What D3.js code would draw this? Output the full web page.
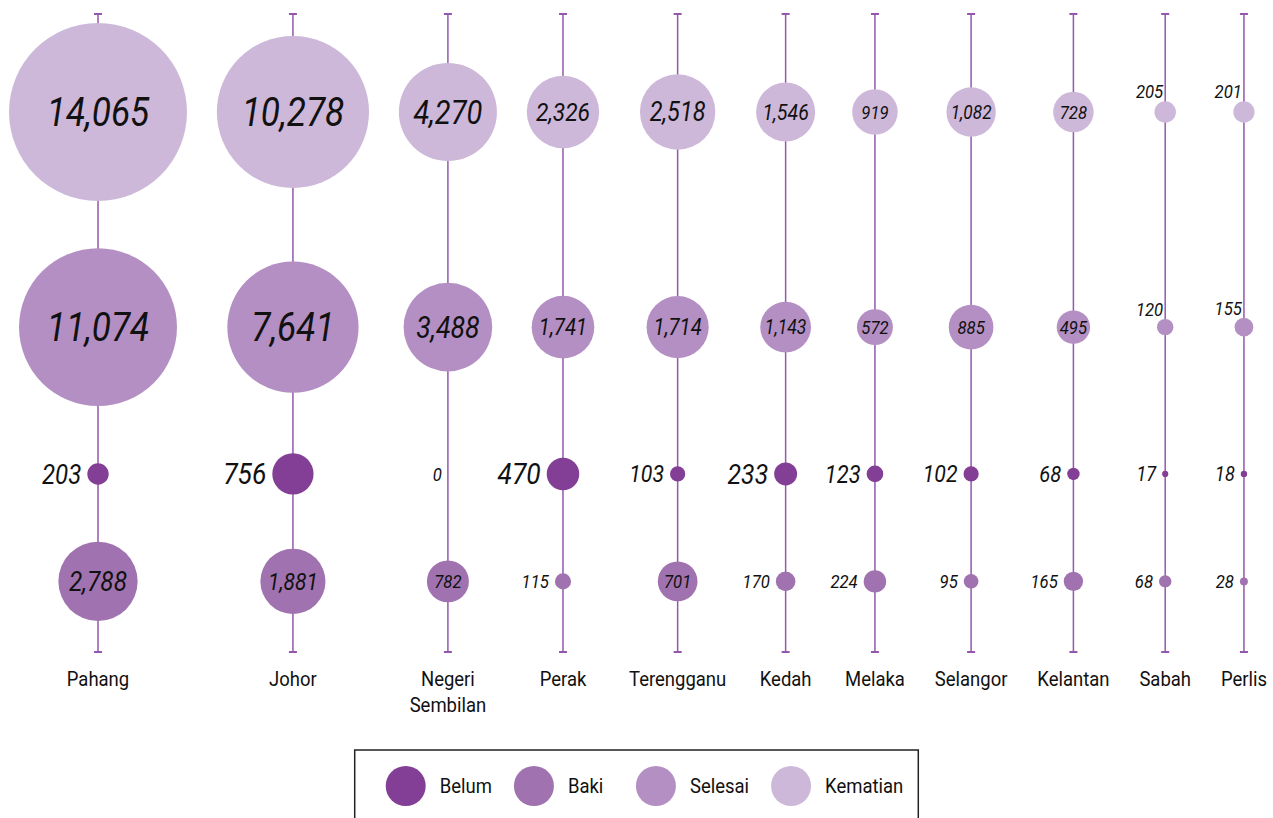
<!DOCTYPE html>
<html>
<head>
<meta charset="utf-8">
<script src="https://cdn.jsdelivr.net/npm/d3@7"></script>
<style>
  body { margin: 0; background: #fff; }
  svg text { font-family: Roboto, "Noto Sans", sans-serif; fill: #111; }
</style>
</head>
<body>
<div id="chart"></div>
<script>
// data
const states = ["Pahang", "Johor", "Negeri Sembilan", "Perak", "Terengganu", "Kedah", "Melaka", "Selangor", "Kelantan", "Sabah", "Perlis"];
const kematian = [14065, 10278, 4270, 2326, 2518, 1546, 919, 1082, 728, 205, 201];
const selesai = [11074, 7641, 3488, 1741, 1714, 1143, 572, 885, 495, 120, 155];
const belum = [203, 756, 0, 470, 103, 233, 123, 102, 68, 17, 18];
const baki = [2788, 1881, 782, 115, 701, 170, 224, 95, 165, 68, 28];
const rowNames = ["Kematian", "Selesai", "Belum", "Baki"];
const legendOrder = ["Belum", "Baki", "Selesai", "Kematian"];

const W = 1273, H = 818;
const condense = 0.88; // no condensed face installed, squeeze Roboto instead
const fmt = d3.format(",");

const svg = d3.select("#chart").append("svg")
  .attr("width", W)
  .attr("height", H);

const color = d3.scaleOrdinal()
  .domain(legendOrder)
  .range(["#833f96", "#a073b0", "#b48fc3", "#cdb8da"]);

const rows = rowNames.map((name, i) => ({ name, values: [kematian, selesai, belum, baki][i] }));

const r = d3.scaleSqrt()
  .domain([0, d3.max(rows, row => d3.max(row.values))])
  .range([0, 89]);

// text measuring helper
const measure = svg.append("text").attr("visibility", "hidden");
function textW(str, size, italic) {
  measure.text(str)
    .style("font-size", size + "px")
    .style("font-style", italic ? "italic" : "normal");
  return measure.node().getComputedTextLength() * condense;
}

// column layout: each column as wide as its biggest bubble or its label
const labelSize = 21;
const cols = states.map((s, i) => {
  const lines = s.split(" ");
  const lw = d3.max(lines, l => textW(l, labelSize, false));
  const rm = d3.max(rows, row => r(row.values[i]));
  return { state: s, lines, w: Math.max(2 * rm, lw) };
});
const padL = 9, padR = 6;
const gap = (W - padR - padL - d3.sum(cols, c => c.w)) / (cols.length - 1);
let acc = padL;
cols.forEach(c => { c.x = acc + c.w / 2; acc += c.w + gap; });
const x = d3.scaleOrdinal().domain(states).range(cols.map(c => c.x));

// row layout
const rowTop = 23, rowBottom = 621;
const rowH = rows.map(row => 2 * r(d3.max(row.values)));
const vgap = (rowBottom - rowTop - d3.sum(rowH)) / (rows.length - 1);
let yacc = rowTop;
const rowY = rowH.map(h => { const c = yacc + h / 2; yacc += h + vgap; return c; });
const y = d3.scaleOrdinal().domain(rowNames).range(rowY);

const lineTop = 14, lineBottom = 652;
const lineColor = "#9457ae";

// vertical stems
const stems = svg.append("g");
stems.selectAll("line.stem")
  .data(states)
  .enter()
  .append("line")
  .attr("class", "stem")
  .attr("x1", d => x(d)).attr("x2", d => x(d))
  .attr("y1", lineTop).attr("y2", lineBottom)
  .attr("stroke", lineColor)
  .attr("stroke-width", 1.5);

[lineTop, lineBottom].forEach(yy => {
  stems.selectAll(null)
    .data(states)
    .enter()
    .append("line")
    .attr("x1", d => x(d) - 4).attr("x2", d => x(d) + 4)
    .attr("y1", yy).attr("y2", yy)
    .attr("stroke", lineColor)
    .attr("stroke-width", 2);
});

// bubbles + labels
const fontMin = 19, fontMax = 40;
rows.forEach(row => {
  const rowMax = d3.max(row.values);
  const alwaysOut = row.name === "Belum";
  const above = row.name === "Kematian" || row.name === "Selesai";
  const g = svg.append("g");
  const pts = row.values.map((v, i) => {
    const rad = r(v);
    const txt = fmt(v);
    const perPx = textW(txt, 100, true) / 100;
    const fit = 0.92 * 2 * rad / perPx;
    const inside = !alwaysOut && fit >= 18;
    let size;
    if (inside) size = Math.min(Math.max(fontMin, Math.min(fontMax, 0.55 * rad + 6)), fit);
    else if (alwaysOut) size = Math.min(30, fontMin + (fontMax - fontMin) * Math.pow(v / rowMax, 0.7));
    else size = fontMin;
    return { v, txt, rad, cx: x(states[i]), cy: y(row.name), inside, size };
  });

  g.selectAll("circle")
    .data(pts.filter(d => d.v > 0))
    .enter()
    .append("circle")
    .attr("cx", d => d.cx)
    .attr("cy", d => d.cy)
    .attr("r", d => d.rad)
    .attr("fill", color(row.name));

  g.selectAll("text")
    .data(pts)
    .enter()
    .append("text")
    .text(d => d.txt)
    .attr("transform", d => {
      let tx, ty;
      if (d.inside) { tx = d.cx; ty = d.cy; }
      else if (above) { tx = d.cx - 2; ty = d.cy - d.rad - 3; }
      else { tx = d.cx - d.rad - 6; ty = d.cy; }
      return `translate(${tx},${ty}) scale(${condense},1)`;
    })
    .attr("dy", d => (!d.inside && above) ? 0 : "0.35em")
    .style("text-anchor", d => d.inside ? "middle" : "end")
    .style("font-style", "italic")
    .style("font-size", d => d.size + "px");
});

// column labels
const labels = svg.append("g");
cols.forEach(c => {
  c.lines.forEach((l, j) => {
    labels.append("text")
      .text(l)
      .attr("transform", `translate(${c.x},${686 + j * 26}) scale(${condense},1)`)
      .style("text-anchor", "middle")
      .style("font-size", labelSize + "px");
  });
});

// legend
const legendSize = 21, legR = 20, legTextGap = 14, minItem = 122;
const legItems = legendOrder.map((d, i) => {
  const tw = textW(d, legendSize, false);
  const content = 2 * legR + legTextGap + tw;
  return { key: d, w: i < legendOrder.length - 1 ? Math.max(minItem, content + 22) : content };
});
const boxW = 31 + d3.sum(legItems, d => d.w) + 15;
const boxX = (W - boxW) / 2, boxY = 750;
let lx = boxX + 31;
legItems.forEach(d => { d.x = lx; lx += d.w; });

const legend = svg.append("g");
legend.append("rect")
  .attr("x", boxX).attr("y", boxY)
  .attr("width", boxW).attr("height", 90)
  .attr("fill", "none")
  .attr("stroke", "#222")
  .attr("stroke-width", 1.5);

const items = legend.selectAll("g.item")
  .data(legItems)
  .enter()
  .append("g")
  .attr("class", "item")
  .attr("transform", d => `translate(${d.x + legR},${boxY + 36})`);

items.append("circle")
  .attr("r", legR)
  .attr("fill", d => color(d.key));

items.append("text")
  .text(d => d.key)
  .attr("transform", `translate(${legR + legTextGap},0) scale(${condense},1)`)
  .attr("dy", "0.35em")
  .style("font-size", legendSize + "px");
</script>
</body>
</html>
